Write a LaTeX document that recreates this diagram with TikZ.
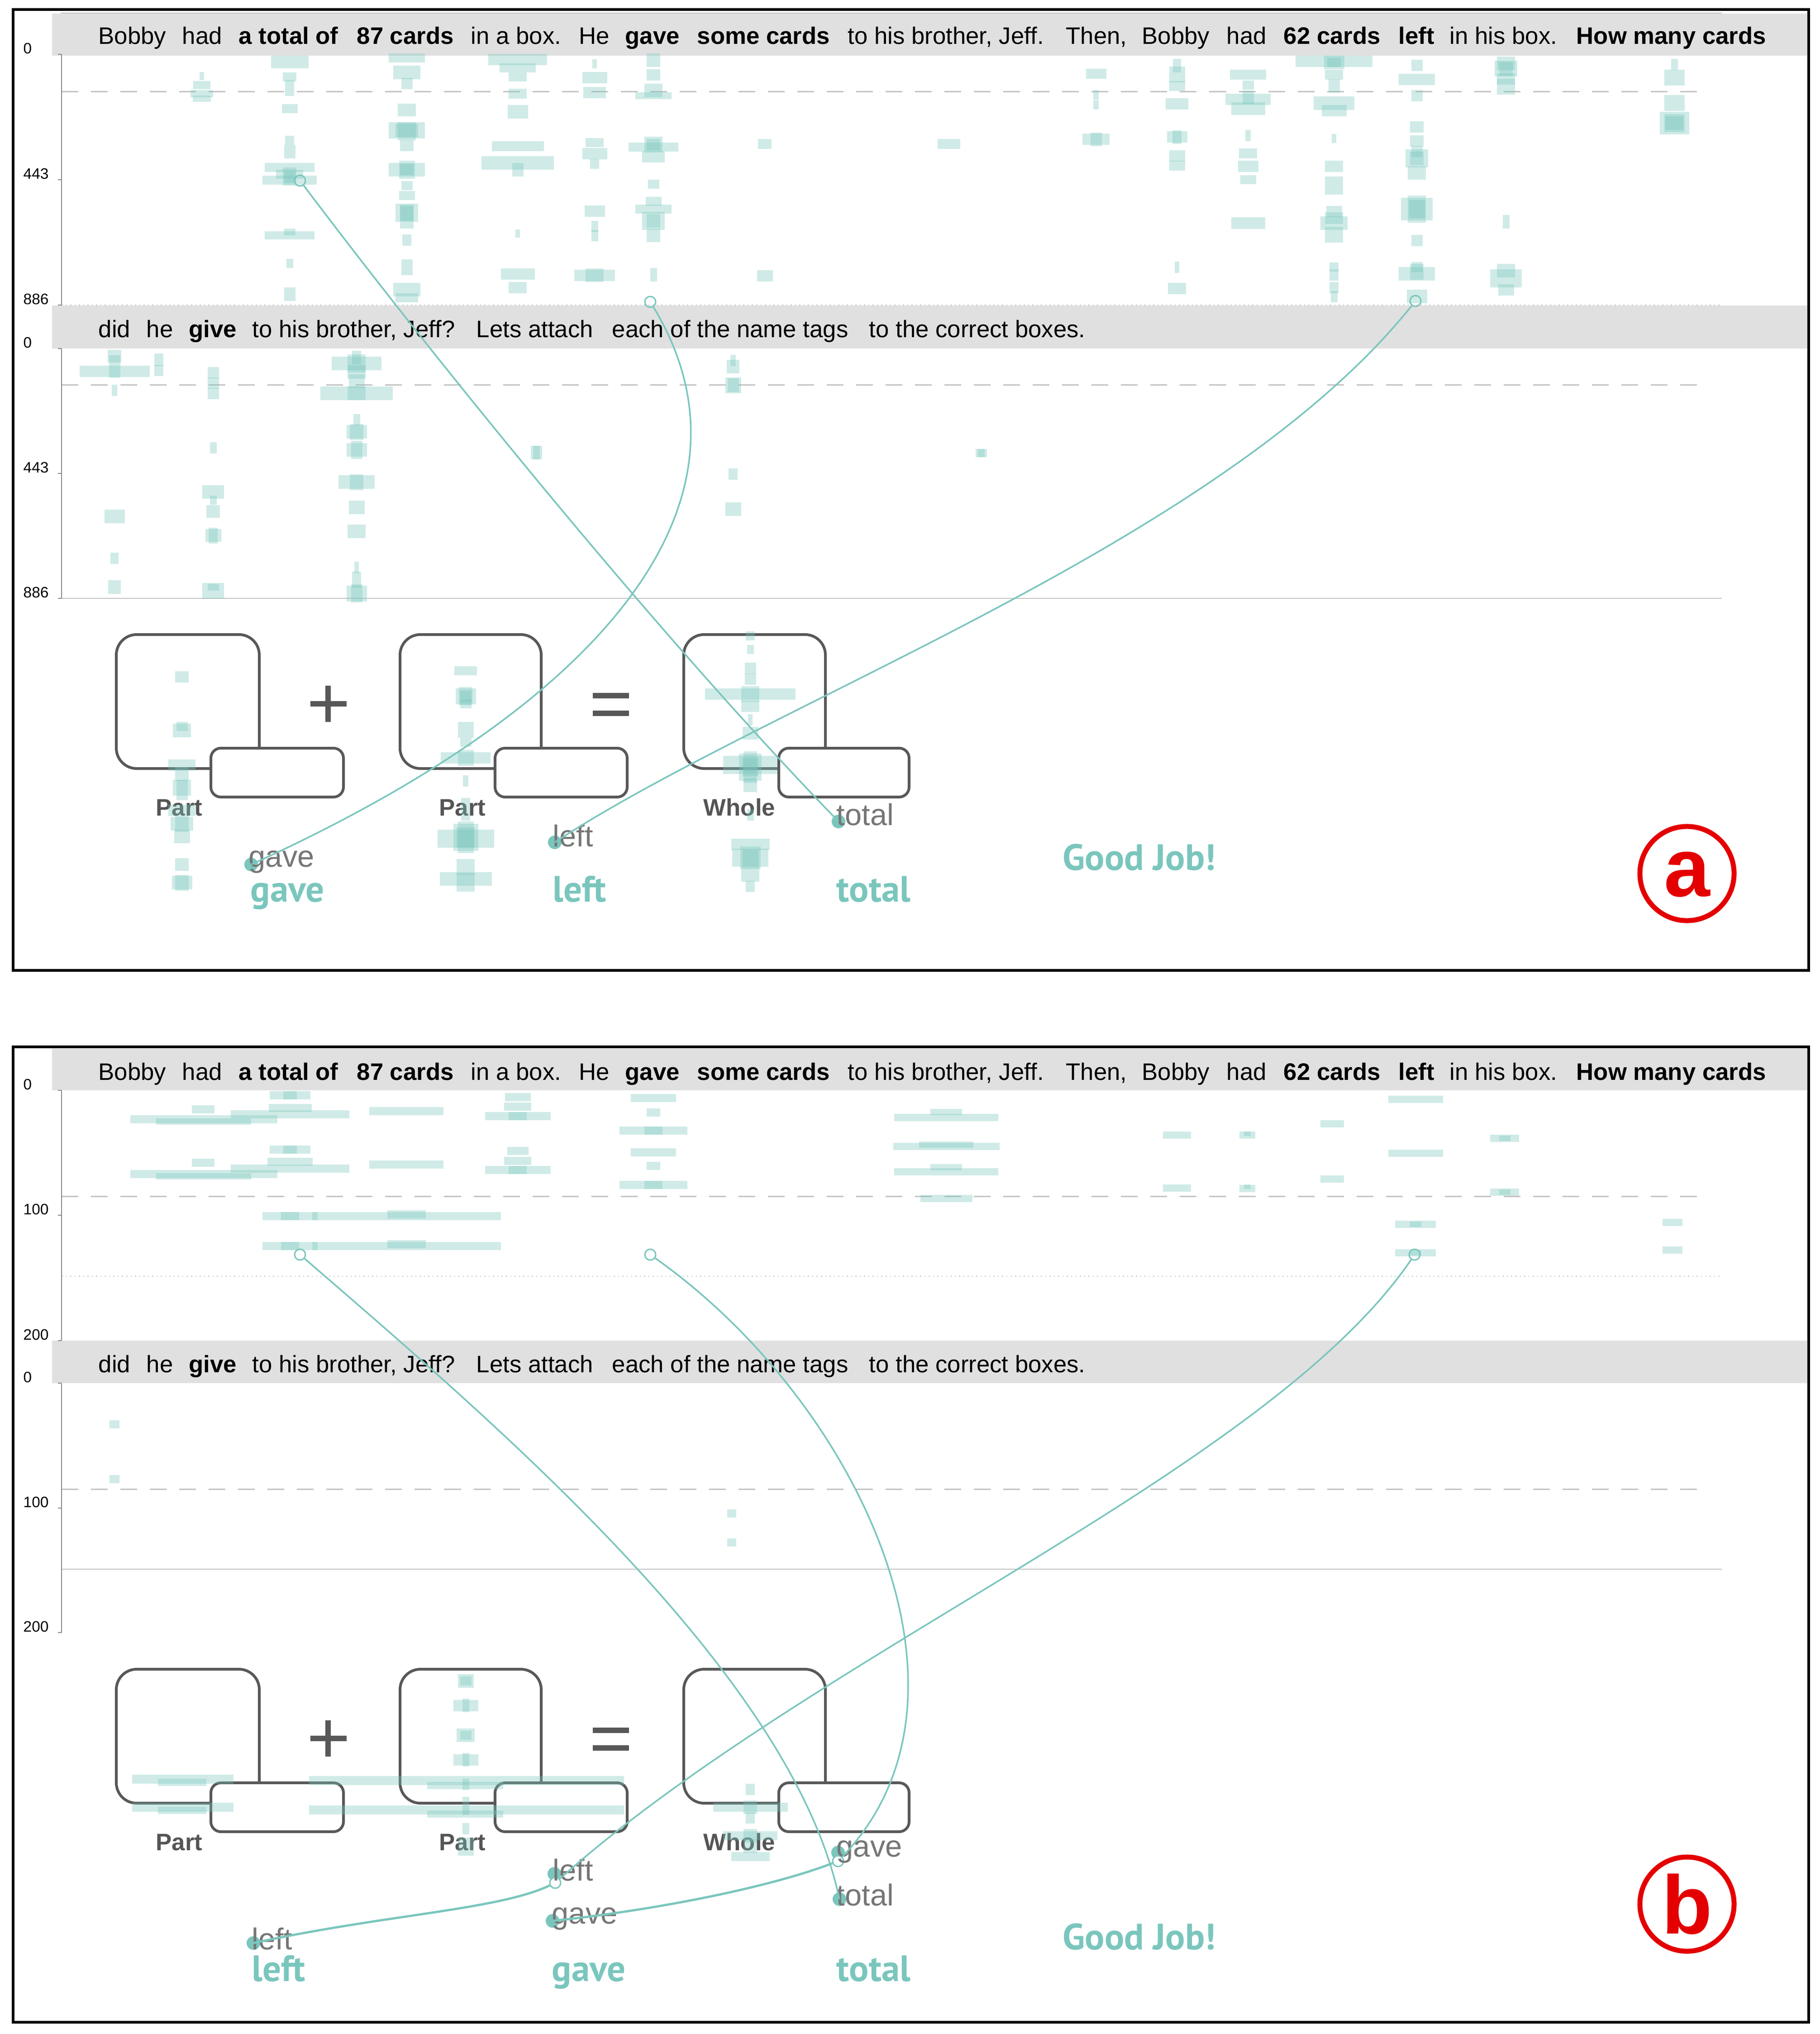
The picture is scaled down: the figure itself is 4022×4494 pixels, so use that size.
\documentclass[tikz,border=0pt]{standalone}
\usepackage{fontspec}
\setmainfont{Liberation Sans}
\newfontfamily\ptsans{PT Sans}
\definecolor{tealc}{RGB}{122,198,189}
\definecolor{boxg}{RGB}{88,88,88}
\definecolor{lblg}{RGB}{85,85,85}
\definecolor{tagg}{RGB}{118,118,118}
\definecolor{bandg}{RGB}{224,224,224}
\definecolor{redc}{RGB}{228,0,0}
\definecolor{lineg}{RGB}{195,195,195}

\newcommand\lineA[2]{%
\node[hdr] (#1a1) at (217,#2) {Bobby};
\node[hdr] (#1a2) at (402,#2) {had};
\node[hdrb] (#1a3) at (527,#2) {a total of};
\node[hdrb] (#1a4) at (788,#2) {87 cards};
\node[hdr] (#1a5) at (1040,#2) {in a box.};
\node[hdr] (#1a6) at (1279,#2) {He};
\node[hdrb] (#1a7) at (1381,#2) {gave};
\node[hdrb] (#1a8) at (1540,#2) {some cards};
\node[hdr] (#1a9) at (1873,#2) {to his brother, Jeff.};
\node[hdr] (#1a10) at (2355,#2) {Then,};
\node[hdr] (#1a11) at (2523,#2) {Bobby};
\node[hdr] (#1a12) at (2710,#2) {had};
\node[hdrb] (#1a13) at (2836,#2) {62 cards};
\node[hdrb] (#1a14) at (3090,#2) {left};
\node[hdr] (#1a15) at (3203,#2) {in his box.};
\node[hdrb] (#1a16) at (3483,#2) {How many cards};
}
\newcommand\lineB[2]{%
\node[hdr] (#1b1) at (217,#2) {did};
\node[hdr] (#1b2) at (323,#2) {he};
\node[hdrb] (#1b3) at (417,#2) {give};
\node[hdr] (#1b4) at (557,#2) {to his brother, Jeff?};
\node[hdr] (#1b5) at (1052,#2) {Lets attach};
\node[hdr] (#1b6) at (1352,#2) {each of the name tags};
\node[hdr] (#1b7) at (1920,#2) {to the correct boxes.};
}
\newcommand\axtick[3]{%
\draw[axl] (128,#2) -- (136,#2);
\node[axlab] (#1) at (51,#2-13) {#3};
}
\newcommand\eqboxes[2]{%
\draw[bigbox] (257,#2+1402) rectangle (573,#2+1698);
\draw[smallbox] (466,#2+1653) rectangle (759,#2+1761);
\draw[bigbox] (884,#2+1402) rectangle (1196,#2+1698);
\draw[smallbox] (1094,#2+1653) rectangle (1386,#2+1761);
\draw[bigbox] (1511,#2+1402) rectangle (1824,#2+1698);
\draw[smallbox] (1721,#2+1653) rectangle (2009,#2+1761);
\draw[opline] (686,#2+1555) -- (766,#2+1555);
\draw[opline] (725,#2+1515) -- (725,#2+1595);
\draw[opline] (1310,#2+1537) -- (1390,#2+1537);
\draw[opline] (1310,#2+1576) -- (1390,#2+1576);
\node[lbl] (#1p1) at (396,#2+1802) {Part};
\node[lbl] (#1p2) at (1022,#2+1802) {Part};
\node[lbl] (#1p3) at (1634,#2+1802) {Whole};
}

\begin{document}
\begin{tikzpicture}[x=0.01cm,y=-0.01cm,
 blobf/.style={fill=tealc,fill opacity=0.35},
 conn/.style={draw=tealc,line width=0.035cm},
 connb/.style={draw=tealc,line width=0.05cm},
 anch/.style={circle,draw=tealc,line width=0.03cm,minimum size=0.24cm,inner sep=0pt},
 tagdot/.style={circle,fill=tealc,minimum size=0.3cm,inner sep=0pt},
 bigbox/.style={draw=boxg,line width=0.06cm,rounded corners=0.45cm},
 smallbox/.style={draw=boxg,fill=white,line width=0.06cm,rounded corners=0.22cm},
 opline/.style={draw=boxg,line width=0.12cm},
 hdr/.style={anchor=base west,inner sep=0pt,font=\fontsize{15}{18}\selectfont},
 hdrb/.style={hdr,font=\fontsize{15}{18}\selectfont\bfseries},
 axlab/.style={anchor=west,inner sep=0pt,font=\fontsize{9.5}{11}\selectfont},
 axl/.style={draw=lineg!70!black,line width=0.02cm},
 lbl/.style={anchor=base,inner sep=0pt,text=lblg,font=\fontsize{15}{18}\selectfont\bfseries},
 tagt/.style={anchor=base west,inner sep=0pt,text=tagg,font=\fontsize{19}{22}\selectfont},
 tealw/.style={anchor=base west,inner sep=0pt,text=tealc,font=\ptsans\fontsize{23}{27}\selectfont\bfseries},
 frm/.style={draw=black,line width=0.06cm},
 band/.style={fill=bandg},
 dashl/.style={draw=lineg,line width=0.03cm,dash pattern=on 0.37cm off 0.28cm},
 dotl/.style={draw=lineg,line width=0.025cm,dotted},
 soll/.style={draw=lineg,line width=0.025cm},
 circlbl/.style={draw=redc,line width=0.11cm,circle,minimum size=2.08cm,inner sep=0pt},
 circtxt/.style={text=redc,inner sep=0pt,font=\fontsize{52}{60}\selectfont\bfseries}
]
\useasboundingbox (0,0) rectangle (4022,4494);
\fill[white] (0,0) rectangle (4022,4494);

% ---------------- panel a ----------------
\fill[band] (115,30) rectangle (3997,123);
\draw[soll] (134,29) -- (3805,29);
\fill[band] (115,675) rectangle (3997,770);
\draw[dashl] (136,203) -- (3767,203);
\draw[dotl] (136,674) -- (3805,674);
\draw[dashl] (136,850) -- (3767,850);
\draw[soll] (136,1322) -- (3805,1322);
\draw[axl] (136,120) -- (136,674);
\draw[axl] (136,770) -- (136,1322);
\axtick{ay1}{120}{0}
\axtick{ay2}{397}{443}
\axtick{ay3}{674}{886}
\axtick{ay4}{770}{0}
\axtick{ay5}{1046}{443}
\axtick{ay6}{1322}{886}
\lineA{pa}{98}
\lineB{pa}{745}
\eqboxes{pa}{0}

\foreach \bx/\by/\bw/\bh in {
446/168/10/18, 446/188/38/18, 446/207/50/16, 446/218/40/14,
640/137/83/28, 640/170/30/20, 640/195/20/35, 640/240/35/20, 640/310/20/20, 640/335/25/30, 640/370/110/20, 640/385/60/20, 640/398/120/20, 640/390/30/40, 640/520/110/18, 640/512/25/15, 640/582/15/20, 640/650/25/30,
899/128/80/20, 899/160/60/30, 899/185/25/25, 899/243/40/28, 899/288/80/36, 899/290/40/40, 899/322/30/25, 899/375/80/30, 899/375/35/40, 899/410/25/20, 899/432/35/20, 899/470/50/40, 899/480/30/50, 899/530/20/25, 899/590/25/35, 899/640/60/30, 899/658/50/20,
1144/132/130/25, 1144/150/80/20, 1144/170/40/20, 1144/207/40/22, 1144/247/45/30, 1144/323/115/22, 1144/360/160/30, 1144/375/25/30, 1144/516/10/18, 1144/605/75/25, 1144/635/40/25,
1314/141/10/20, 1314/172/55/25, 1314/205/50/25, 1314/315/40/20, 1314/340/55/25, 1314/362/20/22, 1314/467/45/25, 1314/500/15/25, 1314/520/15/25, 1314/608/90/25, 1314/608/40/30,
1444/133/30/30, 1444/166/30/25, 1444/200/40/30, 1444/212/80/15, 1444/325/110/20, 1444/320/40/35, 1444/347/50/25, 1444/407/25/20, 1444/445/35/20, 1444/462/80/20, 1444/488/50/40, 1444/520/30/30, 1444/607/15/30,
1690/318/30/22, 1690/609/35/25, 2097/318/50/22,
2422/163/45/22, 2422/210/12/22, 2422/232/12/20, 2422/308/60/25, 2422/308/25/30,
2601/145/18/30, 2601/165/35/35, 2601/190/35/22, 2601/230/50/25, 2601/303/45/25, 2601/303/20/30, 2601/345/35/25, 2601/366/35/22, 2601/590/10/25, 2601/637/40/25,
2758/165/80/22, 2758/188/25/20, 2758/220/100/25, 2758/215/25/30, 2758/240/75/28, 2758/300/12/25, 2758/339/40/22, 2758/368/45/25, 2758/397/35/20, 2758/493/75/25,
2948/136/170/25, 2948/138/45/30, 2948/165/40/22, 2948/190/25/30, 2948/228/90/30, 2948/245/55/25, 2948/306/10/20, 2948/368/40/25, 2948/410/40/40, 2948/468/35/25, 2948/482/40/25, 2948/493/60/30, 2948/518/40/35, 2948/590/20/20, 2948/607/20/25, 2948/635/20/25, 2948/655/15/25,
3131/145/25/25, 3131/176/80/25, 3131/212/25/25, 3131/281/30/25, 3131/312/30/25, 3131/335/25/25, 3131/350/50/40, 3131/382/40/30, 3131/462/70/50, 3131/462/40/60, 3131/531/25/25, 3131/590/25/22, 3131/605/80/30, 3131/600/30/35, 3131/655/45/30,
3328/140/40/30, 3328/152/50/35, 3328/175/40/25, 3328/192/40/35, 3328/490/15/30, 3328/598/40/30, 3328/615/70/40, 3328/640/35/25,
3700/143/15/25, 3700/172/45/35, 3700/228/45/35, 3700/272/65/50, 3700/272/45/40,
899/288/50/30, 899/470/30/35, 899/375/30/25, 640/392/25/25, 3131/462/35/40, 3131/350/30/30, 3700/272/40/30, 3328/152/30/30, 1444/320/30/25, 1444/488/30/30, 2948/138/30/20,
253/787/30/28, 253/820/155/25, 253/810/25/50, 253/862/12/25, 253/1141/45/30, 253/1233/18/25, 253/1297/28/30,
351/795/20/28, 351/818/20/25,
471/823/25/25, 471/846/25/25, 471/869/25/25, 471/989/15/25, 471/1087/48/30, 471/1105/15/20, 471/1130/30/28, 471/1183/35/28, 471/1183/20/35, 471/1297/25/15, 471/1305/48/35,
788/790/20/30, 788/803/110/30, 788/803/40/40, 788/822/40/30, 788/842/35/30, 788/869/160/30, 788/869/40/30, 788/927/15/25, 788/954/45/30, 788/954/30/35, 788/994/45/30, 788/994/25/40, 788/1065/80/30, 788/1065/30/35, 788/1121/35/30, 788/1174/40/30, 788/1253/10/25, 788/1280/20/35, 788/1311/45/35, 788/1311/25/40,
1185/1000/25/30, 1185/1000/15/30,
1620/796/12/25, 1620/810/28/30, 1620/851/35/35, 1620/851/25/30, 1620/1047/20/25, 1620/1125/35/30,
2168/1001/25/18, 2168/1001/15/18,
402/1495/30/25, 402/1614/40/30, 402/1605/25/20, 402/1690/60/25, 402/1710/30/30, 402/1740/40/35, 402/1745/25/45, 402/1790/60/25, 402/1820/50/30, 402/1820/30/35, 402/1848/35/30, 402/1910/30/28, 402/1950/45/30, 402/1950/30/35,
1029/1482/50/20, 1029/1538/45/35, 1029/1538/30/40, 1029/1555/25/20, 1029/1612/35/35, 1029/1640/25/20, 1029/1674/110/25, 1029/1674/35/35, 1029/1725/12/25, 1029/1775/20/25, 1029/1800/20/25, 1029/1853/125/40, 1029/1850/55/60, 1029/1850/35/70, 1029/1915/40/35, 1029/1942/115/30, 1029/1950/40/40,
1658/1405/20/20, 1658/1435/15/20, 1658/1476/25/25, 1658/1500/25/25, 1658/1533/200/25, 1658/1533/40/35, 1658/1560/40/25, 1658/1590/10/25, 1658/1620/35/28, 1658/1690/120/40, 1658/1695/50/60, 1658/1695/30/70, 1658/1735/30/30, 1658/1800/15/25, 1658/1865/85/25, 1658/1895/80/40, 1658/1895/45/50, 1658/1930/40/35, 1658/1958/20/25,
1658/1695/35/40, 1658/1895/35/35, 1029/1850/40/45, 1029/1538/25/25
}{\fill[blobf] (\bx-\bw/2,\by-\bh/2) rectangle (\bx+\bw/2,\by+\bh/2);}

% tags panel a
\node[tagdot] (adt1) at (555,1910) {};
\node[tagdot] (adt2) at (1226,1861) {};
\node[tagdot] (adt3) at (1853,1815) {};
\node[tagt] (atg1) at (549,1915) {gave};
\node[tagt] (atg2) at (1221,1870) {left};
\node[tagt] (atg3) at (1848,1823) {total};
\node[tealw] (atw1) at (553,1992) {gave};
\node[tealw] (atw2) at (1221,1992) {left};
\node[tealw] (atw3) at (1848,1992) {total};
\node[tealw] (agj) at (2348,1922) {Good Job!};
\node[anch] (aan1) at (663,399) {};
\node[anch] (aan2) at (1437,667) {};
\node[anch] (aan3) at (3128,665) {};
\draw[conn] (aan1) .. controls (950,780) and (1450,1400) .. (adt3.center);
\draw[conn] (aan2) .. controls (1700,1100) and (1350,1550) .. (adt1.center);
\draw[conn] (aan3) .. controls (2700,1200) and (1700,1550) .. (adt2.center);
\node[circlbl] (acirc) at (3728,1930) {};
\node[circtxt] (aletter) at (3728,1932) {a};
\draw[frm] (29,21) rectangle (3997,2144);

% ---------------- panel b ----------------
\fill[band] (115,2317) rectangle (3997,2409);
\fill[band] (115,2962) rectangle (3997,3056);
\draw[dashl] (136,2643) -- (3767,2643);
\draw[dotl] (136,2820) -- (3805,2820);
\draw[dashl] (136,3290) -- (3767,3290);
\draw[soll] (136,3467) -- (3805,3467);
\draw[axl] (136,2409) -- (136,2962);
\draw[axl] (136,3056) -- (136,3607);
\axtick{by1}{2409}{0}
\axtick{by2}{2685}{100}
\axtick{by3}{2962}{200}
\axtick{by4}{3056}{0}
\axtick{by5}{3332}{100}
\axtick{by6}{3607}{200}
\lineA{pb}{2386}
\lineB{pb}{3032}
\eqboxes{pb}{2286}

\foreach \bx/\by/\bw/\bh in {
450/2473/325/18, 450/2478/210/14, 449/2451/50/18, 450/2594/325/18, 450/2599/210/14, 449/2569/50/18,
641/2420/90/18, 641/2420/30/18, 641/2448/95/18, 641/2462/262/18, 641/2540/90/18, 641/2540/30/18, 641/2567/100/18, 641/2582/262/18,
898/2455/164/18, 898/2573/164/18,
1144/2424/57/18, 1144/2445/60/18, 1144/2466/145/18, 1144/2466/40/18, 1144/2543/47/18, 1144/2565/60/18, 1144/2585/145/18, 1144/2585/40/18,
1444/2426/100/18, 1444/2458/30/18, 1444/2498/150/18, 1444/2498/40/18, 1444/2546/100/18, 1444/2576/30/18, 1444/2618/150/18, 1444/2618/40/18,
641/2687/122/18, 641/2687/40/18, 898/2687/417/18, 898/2683/85/18, 641/2753/122/18, 641/2753/40/18, 898/2753/417/18, 898/2749/85/18,
2091/2469/230/16, 2091/2457/70/14, 2091/2533/235/16, 2091/2529/120/14, 2091/2589/230/16, 2091/2579/70/14, 2091/2648/115/16,
2601/2508/62/16, 2601/2625/62/16,
2756/2508/35/16, 2756/2505/15/10, 2756/2626/35/16, 2756/2622/15/10,
2944/2483/52/16, 2944/2605/52/16,
3128/2429/121/16, 3128/2548/121/16,
3325/2515/64/16, 3325/2515/25/12, 3325/2634/64/16, 3325/2634/25/12,
3128/2705/90/16, 3128/2705/25/12, 3128/2768/90/16, 3128/2768/25/12,
3696/2701/44/16, 3696/2762/44/16,
253/3147/22/18, 253/3268/22/18, 1617/3344/20/18, 1617/3408/20/18,
404/3931/224/20, 402/3938/107/16, 404/3993/224/20, 402/4000/107/16,
1031/3934/696/20, 1028/3945/168/16, 1031/3999/696/20, 1028/4008/168/16,
1029/3714/35/30, 1029/3768/55/25, 1029/3768/15/30, 1029/3834/40/30, 1029/3888/55/25, 1029/3888/15/30, 1029/3942/15/25, 1029/3990/15/40, 1029/4040/15/25, 1029/4080/35/40,
1029/3714/25/20, 1029/3834/25/20,
1658/3953/20/25, 1658/3993/165/20, 1658/3993/30/30, 1658/4016/20/25, 1658/4056/120/20, 1658/4056/30/30, 1658/4079/30/30, 1658/4102/85/20
}{\fill[blobf] (\bx-\bw/2,\by-\bh/2) rectangle (\bx+\bw/2,\by+\bh/2);}

% tags panel b
\node[tagdot] (bdt1) at (560,4293) {};
\node[tagdot] (bdt2) at (1225,4140) {};
\node[tagdot] (bdt3) at (1221,4244) {};
\node[tagdot] (bdt4) at (1852,4093) {};
\node[tagdot] (bdt5) at (1855,4196) {};
\node[anch,fill=white] (bop2) at (1227,4160) {};
\node[anch,fill=white] (bop4) at (1852,4112) {};
\node[tagt] (btg1) at (556,4307) {left};
\node[tagt] (btg2) at (1221,4155) {left};
\node[tagt] (btg3) at (1219,4250) {gave};
\node[tagt] (btg4) at (1848,4102) {gave};
\node[tagt] (btg5) at (1848,4210) {total};
\node[tealw] (btw1) at (556,4377) {left};
\node[tealw] (btw2) at (1219,4377) {gave};
\node[tealw] (btw3) at (1848,4377) {total};
\node[tealw] (bgj) at (2348,4307) {Good Job!};
\node[anch] (ban1) at (663,2772) {};
\node[anch] (ban2) at (1437,2772) {};
\node[anch] (ban3) at (3126,2772) {};
\draw[conn] (ban1) .. controls (1100,3150) and (1750,3700) .. (bdt5.center);
\draw[conn] (ban2) .. controls (1900,3100) and (2200,3750) .. (bop4);
\draw[conn] (ban3) .. controls (2800,3250) and (1800,3650) .. (bop2);
\draw[connb] (bdt1.center) .. controls (850,4230) and (1100,4220) .. (bop2);
\draw[connb] (bdt3.center) .. controls (1450,4220) and (1700,4170) .. (bop4);
\node[circlbl] (bcirc) at (3728,4207) {};
\node[circtxt] (bletter) at (3728,4207) {b};
\draw[frm] (29,2313) rectangle (3997,4468);
\end{tikzpicture}
\end{document}
